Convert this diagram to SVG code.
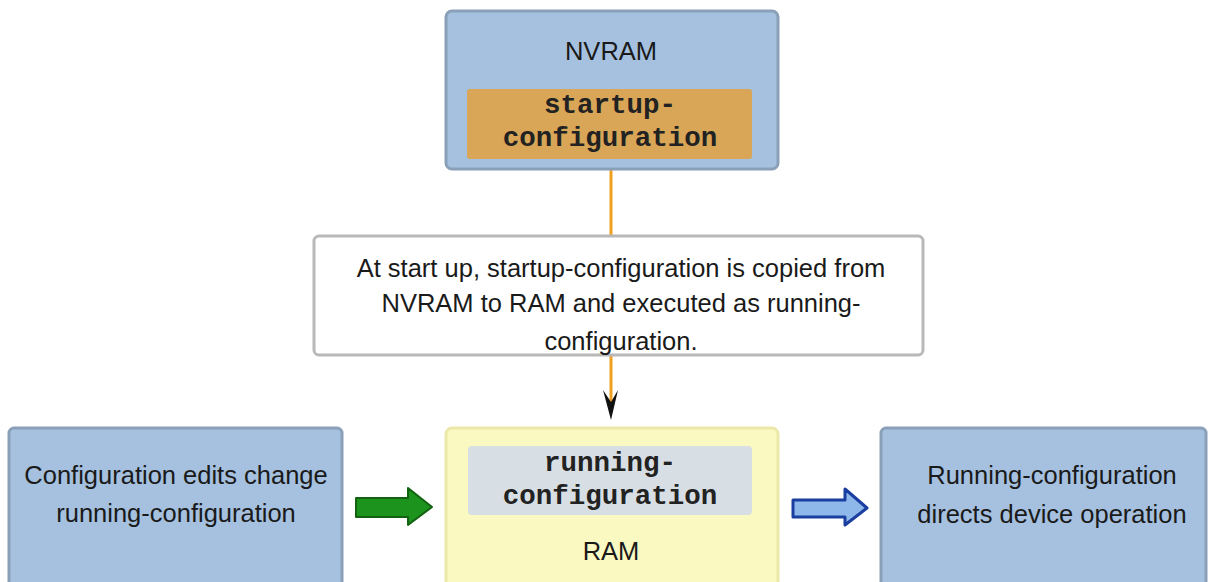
<svg xmlns="http://www.w3.org/2000/svg" width="1209" height="582" viewBox="0 0 1209 582">
<style>
.blue{fill:#a5c1df;stroke:#8aa0b8;stroke-width:3}
.sans{font-family:"Liberation Sans",Arial,sans-serif;font-size:25.5px;fill:#1a1a1a;text-anchor:middle}
.mono{font-family:"Liberation Mono","Courier New",monospace;font-size:27.5px;font-weight:bold;fill:#222;text-anchor:middle}
</style>
<rect width="1209" height="582" fill="#ffffff"/>
<g id="connectors">
<line x1="611" y1="170" x2="611" y2="235" stroke="#f0a020" stroke-width="3"/>
<line x1="611" y1="355" x2="611" y2="404" stroke="#f0a020" stroke-width="3"/>
<path d="M603,390 L611,420 L618,390 L611,402 Z" fill="#111"/>
<path id="green-arrow" d="M356,498 L408,498 L408,488 L432,507 L408,525 L408,517 L356,517 Z" fill="#1c931c" stroke="#126212" stroke-width="2" stroke-linejoin="round"/>
<path id="blue-arrow" d="M793,500 L845,500 L845,489 L867,508 L845,525 L845,517 L793,517 Z" fill="#8fb8ea" stroke="#1a3fa0" stroke-width="3" stroke-linejoin="round"/>
</g>
<g id="nvram">
<rect x="446" y="11" width="332" height="158" rx="6" class="blue"/>
<text x="611" y="60" class="sans">NVRAM</text>
<rect x="467" y="89" width="285" height="70" rx="3" fill="#d9a556"/>
<text x="610" y="113" class="mono">startup-</text>
<text x="610" y="146" class="mono">configuration</text>
</g>
<g id="note">
<rect x="314" y="236" width="609" height="119" rx="5" fill="#ffffff" stroke="#b8b8b8" stroke-width="3"/>
<text x="621" y="277" class="sans">At start up, startup-configuration is copied from</text>
<text x="621" y="312" class="sans">NVRAM to RAM and executed as running-</text>
<text x="621" y="350" class="sans">configuration.</text>
</g>
<g id="edits">
<rect x="9" y="428" width="333" height="160" rx="5" class="blue"/>
<text x="176" y="484" class="sans">Configuration edits change</text>
<text x="176" y="522" class="sans">running-configuration</text>
</g>
<g id="ram">
<rect x="446" y="428" width="332" height="160" rx="6" fill="#fbf9c2" stroke="#ebe8a8" stroke-width="3"/>
<rect x="468" y="446" width="284" height="69" rx="4" fill="#d8dfe4"/>
<text x="610" y="471" class="mono">running-</text>
<text x="610" y="504" class="mono">configuration</text>
<text x="611" y="560" class="sans">RAM</text>
</g>
<g id="operation">
<rect x="881" y="428" width="325" height="160" rx="5" class="blue"/>
<text x="1052" y="484" class="sans">Running-configuration</text>
<text x="1052" y="523" class="sans">directs device operation</text>
</g>
</svg>
